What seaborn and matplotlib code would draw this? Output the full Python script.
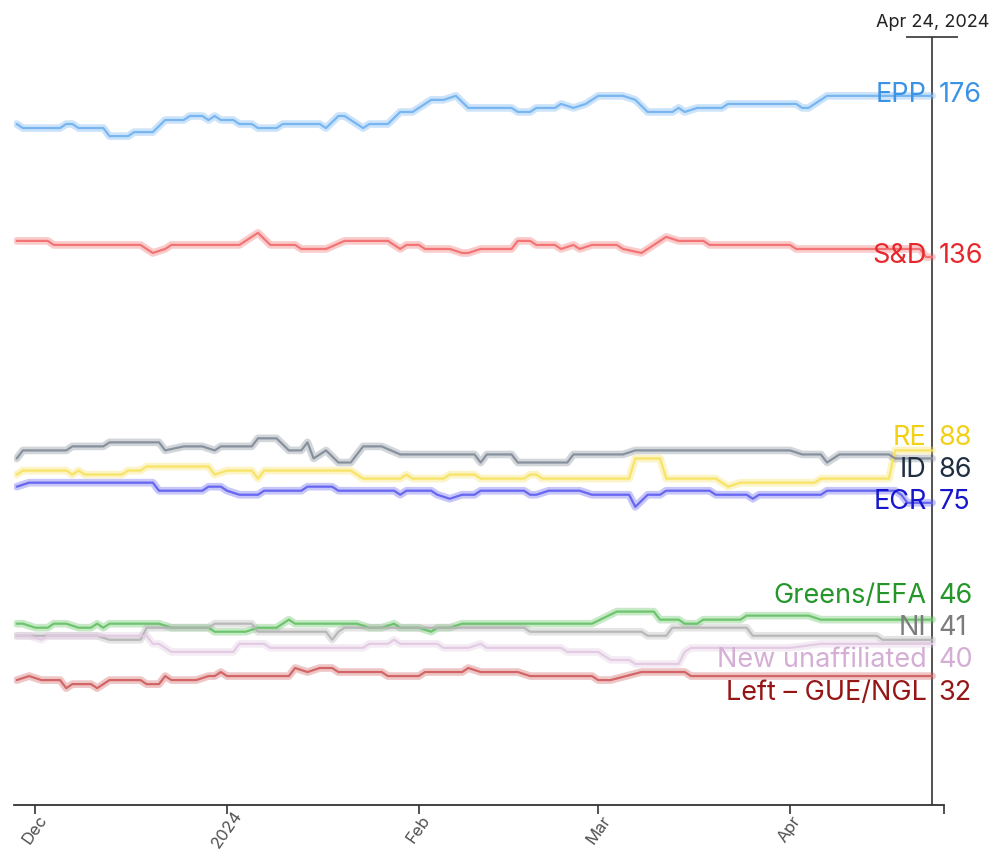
import numpy as np
import pandas as pd
import matplotlib
matplotlib.use("Agg")
import matplotlib.pyplot as plt
import matplotlib.dates as mdates
import seaborn as sns

# Day offsets are counted from START; seat counts per political group
START = pd.Timestamp("2023-11-28")
LAST_DAY = 148  # Apr 24, 2024

PARTIES = ["EPP", "S&D", "RE", "ID", "ECR", "Greens/EFA", "NI",
           "New unaffiliated", "Left – GUE/NGL"]
FINAL_SEATS = [176, 136, 88, 86, 75, 46, 41, 40, 32]

EPP_DAYS = [0, 1, 7, 8, 9, 10, 14, 15, 18, 19, 22, 24, 27, 28, 30, 31, 32, 33, 35, 36, 38, 39, 42, 43,
            49, 50, 52, 53, 56, 57, 60, 62, 64, 67, 69, 71, 73, 80, 81, 83, 84, 87, 88, 90, 92, 94,
            98, 100, 102, 106, 107, 108, 110, 114, 115, 126, 127, 128, 131, 148]
EPP_SEATS = [169, 168, 168, 169, 169, 168, 168, 166, 166, 167, 167, 170, 170, 171, 171, 170, 171, 170,
             170, 169, 169, 168, 168, 169, 169, 168, 171, 171, 168, 169, 169, 172, 172, 175, 175, 176,
             173, 173, 172, 172, 173, 173, 174, 173, 174, 176, 176, 175, 172, 172, 173, 172, 173, 173,
             174, 174, 173, 173, 176, 176]

SD_DAYS = [0, 5, 6, 20, 22, 24, 25, 36, 37, 39, 41, 45, 46, 50, 53, 60, 62, 63, 65, 66, 70, 72, 73,
           75, 80, 81, 83, 84, 87, 88, 90, 91, 93, 97, 98, 101, 103, 105, 107, 111, 112, 125, 126,
           146, 147, 148]
SD_SEATS = [140, 140, 139, 139, 137, 138, 139, 139, 140, 142, 139, 139, 138, 138, 140, 140, 138, 139,
            139, 138, 138, 137, 137, 138, 138, 140, 140, 139, 139, 138, 139, 138, 139, 139, 138, 137,
            139, 141, 140, 140, 139, 139, 138, 138, 136, 136]

RE_DAYS = [0, 1, 8, 9, 10, 11, 17, 18, 20, 21, 31, 32, 34, 38, 39, 40, 54, 56, 62, 63, 64, 69, 70,
           74, 75, 82, 83, 84, 85, 99, 100, 104, 105, 113, 115, 117, 129, 130, 141, 142, 148]
RE_SEATS = [82, 83, 83, 82, 83, 82, 82, 83, 83, 84, 84, 82, 83, 83, 81, 83, 83, 81, 81, 82, 81, 81,
            82, 82, 81, 81, 82, 82, 81, 81, 86, 86, 81, 81, 79, 80, 80, 81, 81, 88, 88]

ID_DAYS = [0, 1, 8, 9, 14, 15, 23, 24, 27, 30, 32, 33, 38, 39, 42, 44, 46, 47, 48, 50, 52, 54, 56,
           59, 62, 74, 75, 76, 80, 81, 89, 90, 98, 100, 125, 127, 130, 131, 133, 141, 142, 148]
ID_SEATS = [86, 88, 88, 89, 89, 90, 90, 88, 89, 89, 88, 89, 89, 91, 91, 88, 88, 90, 86, 88, 85, 85,
            89, 89, 87, 87, 85, 87, 87, 85, 85, 87, 87, 88, 88, 87, 87, 85, 87, 87, 86, 86]

ECR_DAYS = [0, 2, 22, 23, 30, 31, 33, 34, 36, 39, 40, 46, 47, 51, 52, 61, 62, 63, 67, 68, 70, 72,
            74, 75, 82, 83, 84, 86, 91, 93, 99, 100, 102, 104, 105, 112, 113, 118, 119, 120, 130,
            131, 142, 143, 144, 148]
ECR_SEATS = [79, 80, 80, 78, 78, 79, 79, 78, 77, 77, 78, 78, 79, 79, 78, 78, 77, 78, 78, 77, 76, 77,
             77, 78, 78, 77, 77, 78, 78, 77, 77, 74, 77, 77, 78, 78, 77, 77, 76, 77, 77, 78, 78, 77,
             75, 75]

GREENS_DAYS = [0, 1, 3, 5, 6, 8, 10, 12, 13, 14, 15, 23, 25, 31, 32, 37, 39, 42, 44, 45, 55, 57, 59,
               61, 62, 65, 67, 68, 70, 72, 82, 93, 97, 103, 104, 107, 108, 110, 111, 117, 118, 128,
               130, 148]
GREENS_SEATS = [45, 45, 44, 44, 45, 45, 44, 44, 45, 44, 45, 45, 44, 44, 43, 43, 44, 44, 46, 45, 45,
                44, 44, 45, 44, 44, 43, 44, 44, 45, 45, 45, 48, 48, 46, 46, 45, 45, 46, 46, 47, 47,
                46, 46]

NI_DAYS = [0, 13, 15, 20, 21, 31, 32, 38, 39, 50, 51, 52, 53, 82, 83, 101, 102, 105, 106, 118, 119,
           139, 140, 148]
NI_SEATS = [42, 42, 41, 41, 44, 44, 45, 45, 43, 43, 41, 43, 44, 44, 43, 43, 42, 42, 44, 44, 42, 42,
            41, 41]

NEW_DAYS = [0, 2, 4, 5, 21, 22, 23, 25, 35, 36, 40, 41, 56, 57, 60, 61, 62, 68, 69, 73, 75, 76, 88,
            89, 94, 96, 99, 100, 107, 108, 109, 125, 130, 148]
NEW_SEATS = [42, 42, 41, 42, 42, 40, 40, 38, 38, 40, 40, 39, 39, 40, 40, 41, 40, 40, 39, 39, 40, 39,
             39, 38, 38, 36, 36, 35, 35, 38, 39, 39, 40, 40]

LEFT_DAYS = [0, 2, 4, 7, 8, 9, 12, 13, 15, 20, 21, 23, 24, 25, 29, 31, 32, 33, 34, 44, 45, 47, 49,
             51, 52, 59, 60, 65, 66, 72, 73, 75, 81, 83, 93, 94, 96, 101, 108, 109, 148]
LEFT_SEATS = [31, 32, 31, 31, 29, 30, 30, 29, 31, 31, 30, 30, 32, 31, 31, 32, 32, 33, 32, 32, 34, 33,
              34, 34, 33, 33, 32, 32, 33, 33, 34, 33, 33, 32, 32, 31, 31, 33, 33, 32, 32]

TICK_DATES = ["2023-12-01", "2024-01-01", "2024-02-01", "2024-03-01", "2024-04-01"]
TICK_LABELS = ["Dec", "2024", "Feb", "Mar", "Apr"]

LINE_COLORS = ["#6fb1f2", "#f26b6b", "#f7e25c", "#7f8a97", "#5c5cf0",
               "#62c262", "#b4b4b4", "#e2c9e2", "#cf5c5c"]
LABEL_COLORS = ["#3b93e6", "#e8272c", "#f2d016", "#1f2e40", "#1616cc",
                "#25962a", "#7c7c7c", "#d4aed4", "#961616"]

series_days = [EPP_DAYS, SD_DAYS, RE_DAYS, ID_DAYS, ECR_DAYS, GREENS_DAYS, NI_DAYS, NEW_DAYS, LEFT_DAYS]
series_seats = [EPP_SEATS, SD_SEATS, RE_SEATS, ID_SEATS, ECR_SEATS, GREENS_SEATS, NI_SEATS, NEW_SEATS,
                LEFT_SEATS]

frames = []
for party, days, seats in zip(PARTIES, series_days, series_seats):
    frames.append(pd.DataFrame({
        "date": START + pd.to_timedelta(days, unit="D"),
        "seats": seats,
        "party": party,
    }))
df = pd.concat(frames, ignore_index=True)
palette = dict(zip(PARTIES, LINE_COLORS))


def spread_labels(values, gap):
    """Push labels apart so they are at least `gap` seats from each other."""
    groups = [[v] for v in values]

    def slots(g):
        mid = np.mean(g)
        return [mid + gap * ((len(g) - 1) / 2 - i) for i in range(len(g))]

    merged = True
    while merged:
        merged = False
        for i in range(len(groups) - 1):
            if slots(groups[i])[-1] - slots(groups[i + 1])[0] < gap:
                groups[i] = groups[i] + groups.pop(i + 1)
                merged = True
                break
    out = []
    for g in groups:
        out += slots(g)
    return out


sns.set_theme(style="white")
plt.rcParams["font.family"] = ["Inter", "DejaVu Sans"]

fig = plt.figure(figsize=(9.97, 8.54), dpi=100)
ax = fig.add_axes([0.0143, 0.0562, 0.9325, 0.8993])

# soft wide band + thin core line, like the original
sns.lineplot(data=df, x="date", y="seats", hue="party", palette=palette, hue_order=PARTIES,
             linewidth=5.5, alpha=0.35, legend=False, ax=ax, estimator=None)
sns.lineplot(data=df, x="date", y="seats", hue="party", palette=palette, hue_order=PARTIES,
             linewidth=1.6, alpha=0.9, legend=False, ax=ax, estimator=None)

end_date = START + pd.Timedelta(days=LAST_DAY)
x_start = START - pd.Timedelta(days=0.4)
x_end = START + pd.Timedelta(days=149.9)
y_top = 190.6
ax.set_xlim(x_start, x_end)
ax.set_ylim(0, y_top)

for s in ["left", "right", "top"]:
    ax.spines[s].set_visible(False)
ax.spines["bottom"].set_color("#333333")
ax.spines["bottom"].set_linewidth(1.3)
ax.set_yticks([])
ax.set_xlabel("")
ax.set_ylabel("")

ax.set_xticks(pd.to_datetime(TICK_DATES))
ax.set_xticklabels(TICK_LABELS, rotation=55, ha="center", va="center",
                   fontsize=12, color="#505050")
ax.set_xticks([mdates.date2num(x_end)], minor=True)
ax.tick_params(axis="x", which="both", length=6.5, width=1.2, color="#333333", pad=10.5, bottom=True)

# current-date marker
ax.axvline(end_date, color="#333333", linewidth=1.2, zorder=1)
ax.hlines(y_top, end_date - pd.Timedelta(days=4.2), end_date + pd.Timedelta(days=4.2),
          color="#333333", linewidth=1.2, clip_on=False)
ax.annotate(end_date.strftime("%b %d, %Y").replace(" 0", " "), (end_date, y_top),
            xytext=(0, 11), textcoords="offset points", ha="center", va="center",
            fontsize=13, color="#222222", annotation_clip=False)

label_y = spread_labels(FINAL_SEATS, 8)
for party, seats, ly, col in zip(PARTIES, FINAL_SEATS, label_y, LABEL_COLORS):
    ax.annotate(party, (end_date, ly), xytext=(-4, 1.2), textcoords="offset points",
                ha="right", va="center", fontsize=19.5, color=col, annotation_clip=False)
    ax.annotate(str(seats), (end_date, ly), xytext=(4.5, 1.2), textcoords="offset points",
                ha="left", va="center", fontsize=19.5, color=col, annotation_clip=False)

fig.savefig("out.png", dpi=100)
